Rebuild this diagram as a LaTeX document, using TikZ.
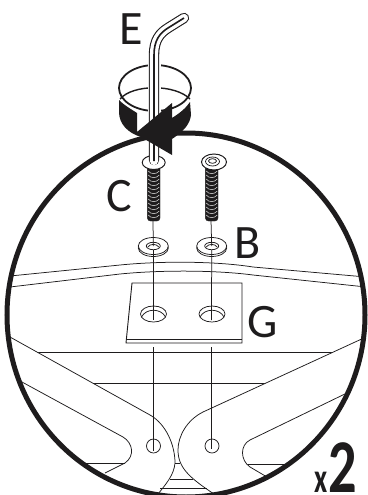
\documentclass[tikz,border=0pt]{standalone}
\usepackage{fontspec}
\setmainfont{Carlito}
\usepackage{tikz}
\definecolor{encre}{RGB}{30, 28, 29}
\tikzset{
  lettre/.style={text=encre, font=\fontsize{48}{48}\selectfont, inner sep=0pt},
  trait/.style={draw=encre, line width=0.75pt},
  guide/.style={draw=encre, line width=0.75pt},
  rondelle/.style={draw=encre, fill=white, line width=0.75pt},
}
\begin{document}
\begin{tikzpicture}[x=1pt, y=-1pt]
  \useasboundingbox (0,0) rectangle (367,495);

  % lunette
  \coordinate (centre) at (186,315);

  % structure
  \begin{scope}
    \clip (centre) ellipse [x radius=178, y radius=181];
    \draw[trait] (10,276) -- (120,265) .. controls (160,261) and (215,261) .. (253,267) -- (366,277);
    \draw[trait] (10,287) -- (120,274) .. controls (160,270) and (215,270) .. (253,275) -- (366,287);
    \draw[trait] (37,352) -- (333,352);
    \draw[trait] (92,383) -- (267,383);
    % bras gauche
    \draw[trait, fill=white] (10,337) -- (150,415) .. controls (166,424) and (175,445) .. (175,463)
      .. controls (174,475) and (166,484) .. (158,494) -- (100,500) -- (10,420) -- cycle;
    \draw[trait] (22,382) -- (123,437) .. controls (133,443) and (135,456) .. (125,463) -- (105,473);
    \draw[trait] (85,463) -- (125,463);
    % bras droit
    \draw[trait, fill=white] (366,337) -- (203,412) .. controls (187,420) and (178,436) .. (178,450)
      .. controls (178,468) and (190,478) .. (214,494) -- (280,500) -- (366,420) -- cycle;
    \draw[trait] (349,392) -- (250,440) .. controls (240,445) and (240,460) .. (250,467) -- (267,477);
    \draw[trait] (248,464) -- (287,464);
    % milieu
    \draw[trait] (175,463) -- (180,463);
    \draw[trait] (170,479) -- (193,479);
    \draw[trait] (160,488) -- (207,488);
  \end{scope}

  % plaque
  \draw[trait, fill=white, line width=0.9pt] (132,283) -- (242,283) -- (242,343) -- (126,343) -- cycle;
  \draw[trait, line width=0.9pt] (126,339) -- (242,339);
  \draw[trait] (153.5,314) ellipse [x radius=13, y radius=8];
  \draw[trait] (141.5,317) .. controls (146,308) and (161,308) .. (165.5,317);
  \draw[trait] (212,314) ellipse [x radius=13, y radius=8];
  \draw[trait] (200,317) .. controls (204.5,308) and (219.5,308) .. (224,317);

  % trous du bas
  \draw[trait] (153.5,446) circle [radius=7];
  \draw[trait] (212,446) circle [radius=7];

  % rondelles
  \foreach \nom/\x in {G/153.3, D/211.7} {
    \draw[rondelle] (\x,248) ellipse [x radius=15, y radius=8.5];
    \draw[rondelle] (\x,246) ellipse [x radius=15, y radius=8.5];
    \draw[rondelle] (\x,246) ellipse [x radius=7, y radius=3.7];
    \draw[trait] (\x-5.5,247) .. controls (\x-3,243.5) and (\x+3,243.5) .. (\x+5.5,247);
    \coordinate (rond\nom) at (\x,246);
  }

  % guides
  \coordinate (vishautG) at (153,220);
  \coordinate (vishautD) at (211,220);
  \coordinate (plaqueG) at (153.3,320);
  \coordinate (plaqueD) at (211.5,320);
  \coordinate (basplaqueG) at (153,347);
  \coordinate (basplaqueD) at (211,347);
  \coordinate (trouG) at (153,451);
  \coordinate (trouD) at (211,449);
  \draw[guide] (vishautG) -- (rondG);
  \draw[guide] (vishautD) -- (rondD);
  \draw[guide] (rondG) ++(0,4) -- (plaqueG);
  \draw[guide] (rondD) ++(0,4) -- (plaqueD);
  \draw[guide] (basplaqueG) -- (trouG);
  \draw[guide] (basplaqueD) -- (trouD);

  % vis
  \foreach \x in {153.7, 211.7} {
    \draw[fill=encre, rounded corners=3pt, draw=encre] (\x-6.3,165) -- (\x-6.3,221) -- (\x+6.3,221) -- (\x+6.3,165) -- cycle;
    \foreach \y in {171,175,...,215} {
      \draw[white!80!encre, line width=0.55pt] (\x-5.5,\y) .. controls (\x-3,\y+3.5) and (\x+3,\y+3.5) .. (\x+5.5,\y);
    }
  }
  \draw[rondelle, line width=1pt] (153.7,162.5) ellipse [x radius=11.5, y radius=7];
  \draw[rondelle, line width=1pt] (214,162) ellipse [x radius=12.5, y radius=8];
  \draw[rondelle] (212.5,161.5) ellipse [x radius=7, y radius=4.5];
  \draw[rondelle] (212.5,161) ellipse [x radius=4, y radius=2.3];

  % anneau, fond
  \draw[encre, line width=1.8pt, fill=white] (155,88) ellipse [x radius=36, y radius=23];
  \draw[encre, line width=1.4pt] (120,99) .. controls (133,84) and (175,84) .. (190,99);

  % cle
  \draw[white, line width=13pt] (154,115) -- (154,60);
  \draw[encre, line width=10.4pt, line join=round, line cap=round] (154,160) -- (154,55) .. controls (154,40) and (160,33) .. (168,28) -- (184,18);
  \draw[white, line width=8.2pt, line join=round, line cap=round] (154,161) -- (154,55) .. controls (154,40) and (160,33) .. (168,28) -- (184,18);
  \draw[encre, line width=1.6pt] (154,161) -- (154,55) .. controls (154,40) and (160,33) .. (168,28) -- (184,18);

  % grand cercle
  \draw[encre, line width=5pt] (centre) ellipse [x radius=179, y radius=182];

  % fleche
  \fill[encre] (119,100) .. controls (125,106) and (131,109) .. (137,113) -- (137,132)
    -- (172,103) -- (172,118) .. controls (180,113) and (186,108) .. (190,102)
    -- (191,115) .. controls (190,124) and (184,131) .. (172,139) -- (172,155) -- (141,137)
    .. controls (128,133) and (119,124) .. (119,112) -- cycle;

  % lettres
  \node[lettre] (lettreE) at (131,29) {E};
  \node[lettre] (lettreC) at (119,196) {C};
  \node[lettre] (lettreB) at (248,243) {B};
  \node[lettre] (lettreG) at (263,322) {G};
  \node[lettre, font=\fontsize{42}{42}\bfseries\selectfont, xscale=0.68, anchor=base] (fois) at (321,492) {x};
  \node[lettre, font=\fontsize{76}{76}\bfseries\selectfont, xscale=0.74, anchor=base] (deux) at (342.5,492) {2};
\end{tikzpicture}
\end{document}
